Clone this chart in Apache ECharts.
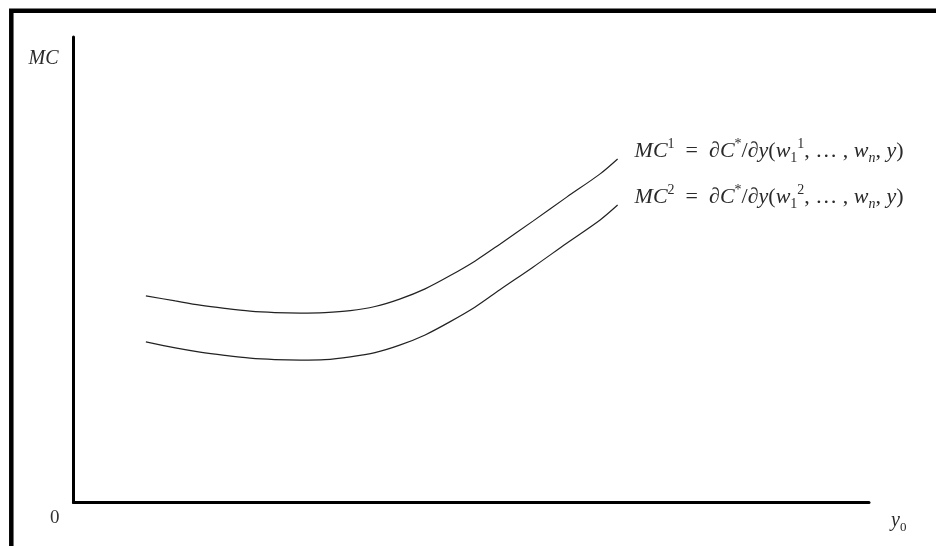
<!DOCTYPE html>
<html>
<head>
<meta charset="utf-8">
<script src="https://cdn.jsdelivr.net/npm/echarts@6/dist/echarts.min.js"></script>
<style>
html,body{margin:0;padding:0;background:#fff;}
#chart{width:936px;height:546px;}
</style>
</head>
<body>
<div id="chart"></div>
<script>
// Output quantity positions (abstract units along y0 axis)
const xValues = [0.91, 1.28, 1.59, 1.90, 2.22, 2.53, 2.85, 3.16, 3.48, 3.79, 4.10, 4.42, 4.73, 5.05, 5.36, 5.78, 6.20, 6.62, 6.84];
// Marginal cost curve MC^1
const mc1Values = [4.44, 4.33, 4.24, 4.17, 4.11, 4.08, 4.07, 4.08, 4.12, 4.21, 4.37, 4.59, 4.87, 5.19, 5.55, 6.05, 6.56, 7.06, 7.38];
// Marginal cost curve MC^2
const mc2Values = [3.45, 3.32, 3.23, 3.16, 3.10, 3.07, 3.06, 3.07, 3.13, 3.22, 3.38, 3.60, 3.88, 4.20, 4.57, 5.06, 5.57, 6.07, 6.39];
const axisMin = 0, axisMax = 10;

const serif = '"Liberation Serif", "DejaVu Serif", serif';
const txt = '#2a2a2a';
const base = {fontFamily: serif, color: txt, lineHeight: 28};
const rich = {
  i: Object.assign({}, base, {fontStyle: 'italic', fontSize: 22, verticalAlign: 'middle'}),
  n: Object.assign({}, base, {fontSize: 22, verticalAlign: 'middle'}),
  sup: Object.assign({}, base, {fontSize: 14, verticalAlign: 'top'}),
  sub: Object.assign({}, base, {fontSize: 14, verticalAlign: 'bottom'}),
  subi: Object.assign({}, base, {fontStyle: 'italic', fontSize: 14, verticalAlign: 'bottom'}),
  ax: Object.assign({}, base, {fontStyle: 'italic', fontSize: 20, verticalAlign: 'middle'}),
  axsub: Object.assign({}, base, {fontSize: 13, verticalAlign: 'bottom'})
};
function mcLabel(k) {
  return '{i|MC}{sup|' + k + '}{n|  =  ∂}{i|C}{sup|*}{n|/∂}{i|y}{n|(}{i|w}{sub|1}{sup|' + k + '}{n|, … , }{i|w}{subi|n}{n|, }{i|y}{n|)}';
}
function pairs(xs, ys) { return xs.map((x, i) => [x, ys[i]]); }

const chart = echarts.init(document.getElementById('chart'), null, {renderer: 'canvas'});
const lineAxis = {show: true, lineStyle: {color: '#000', width: 3}};
chart.setOption({
  animation: false,
  backgroundColor: '#fff',
  grid: {left: 73.5, right: 67, top: 37, bottom: 43.5},
  xAxis: {
    type: 'value', min: axisMin, max: axisMax,
    axisLine: lineAxis, axisTick: {show: false}, axisLabel: {show: false}, splitLine: {show: false},
    name: '{ax|y}{axsub|0}', nameLocation: 'end', nameGap: 22,
    nameTextStyle: {align: 'left', verticalAlign: 'middle', padding: [36, 0, 0, 0], rich: rich}
  },
  yAxis: {
    type: 'value', min: axisMin, max: axisMax,
    axisLine: lineAxis, axisTick: {show: false}, axisLabel: {show: false}, splitLine: {show: false},
    name: '{ax|MC}', nameLocation: 'end', nameGap: -22,
    nameTextStyle: {align: 'right', verticalAlign: 'middle', padding: [0, 15, 0, 0], rich: rich}
  },
  graphic: [
    {type: 'rect', shape: {x: 11.3, y: 10.7, width: 1200, height: 1200}, style: {fill: 'none', stroke: '#000', lineWidth: 4.5}, silent: true},
    {type: 'text', left: 50, top: 509, style: {text: '0', font: '19px "Liberation Serif", serif', fill: '#333'}}
  ],
  series: [
    {
      type: 'line', data: pairs(xValues, mc1Values), smooth: 0.3, showSymbol: false,
      lineStyle: {color: '#222', width: 1.2},
      endLabel: {show: true, formatter: () => mcLabel(1), rich: rich, distance: 17, offset: [0, -8]}
    },
    {
      type: 'line', data: pairs(xValues, mc2Values), smooth: 0.3, showSymbol: false,
      lineStyle: {color: '#222', width: 1.2},
      endLabel: {show: true, formatter: () => mcLabel(2), rich: rich, distance: 17, offset: [0, -8]}
    }
  ]
});
</script>
</body>
</html>
